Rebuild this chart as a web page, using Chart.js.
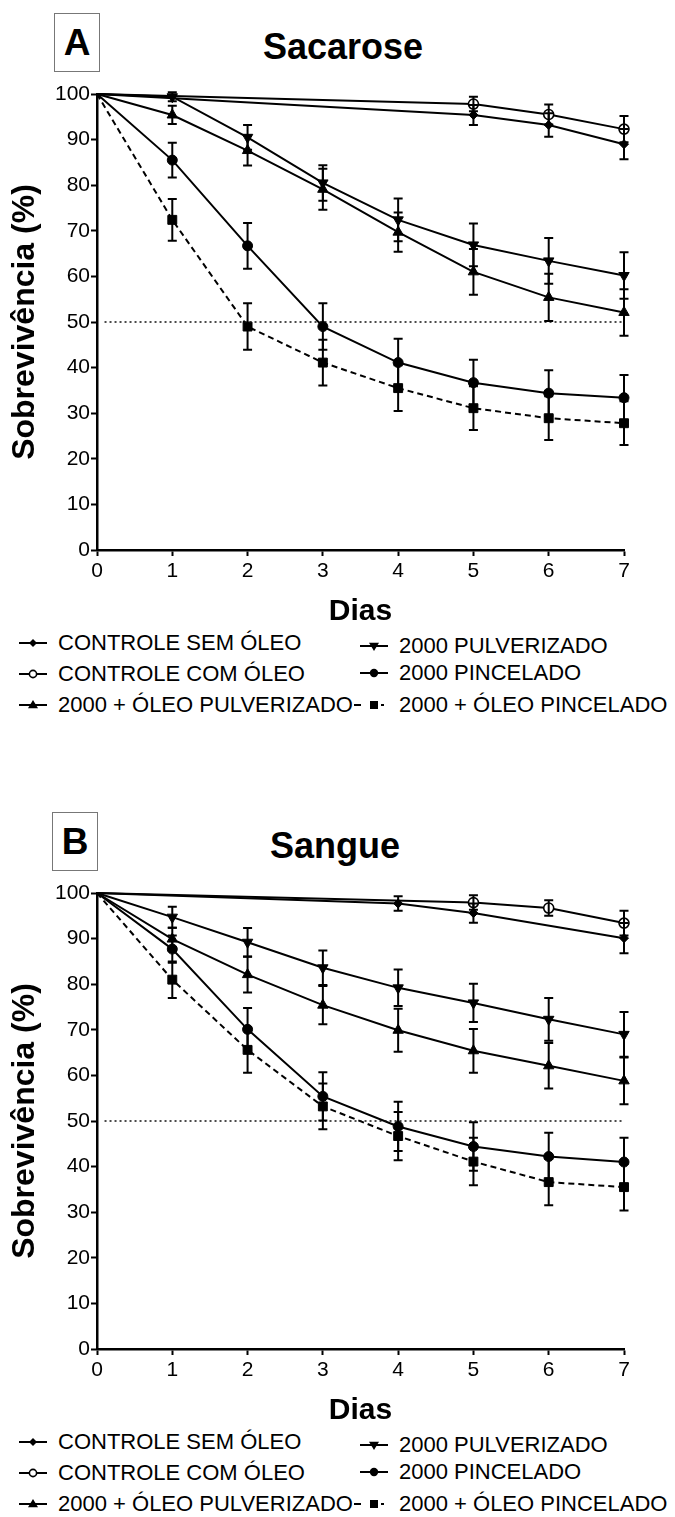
<!DOCTYPE html>
<html>
<head>
<meta charset="utf-8">
<script src="https://cdn.jsdelivr.net/npm/chart.js@4.4.1/dist/chart.umd.min.js"></script>
<style>
  html, body { margin: 0; padding: 0; background: #fff; }
  body { width: 675px; height: 1517px; position: relative; font-family: 'Liberation Sans', Arial, sans-serif; color: #000; overflow: hidden; }
  .box { position: absolute; width: 46px; height: 59px; border: 1px solid #777; box-sizing: border-box; display: flex; align-items: center; justify-content: center; font-weight: bold; font-size: 37px; }
  .title { position: absolute; transform: translateX(-50%); font-weight: bold; font-size: 36px; line-height: 40px; white-space: nowrap; }
  canvas { position: absolute; left: 0; }
  .leg { position: absolute; font-size: 22px; line-height: 26px; white-space: nowrap; }
  .sym { position: absolute; }
</style>
</head>
<body>
<div class="box" style="left:54px;top:13px;">A</div>
<div class="title" style="left:343px;top:27px;">Sacarose</div>
<canvas id="chartA" width="675" height="556" style="top:74px;"></canvas>

<div class="box" style="left:52px;top:812px;">B</div>
<div class="title" style="left:335px;top:826px;">Sangue</div>
<canvas id="chartB" width="675" height="556" style="top:873px;"></canvas>

<div id="legends"></div>

<script>
// ---------- DATA ----------
const days = [0, 1, 2, 3, 4, 5, 6, 7];
const seriesLabels = [
  'CONTROLE SEM ÓLEO',
  'CONTROLE COM ÓLEO',
  '2000 + ÓLEO PULVERIZADO',
  '2000 PULVERIZADO',
  '2000 PINCELADO',
  '2000 + ÓLEO PINCELADO'
];
const yTicks = [0, 10, 20, 30, 40, 50, 60, 70, 80, 90, 100];
const refLine = 50;

// Panel A - Sacarose
const semOleoA   = [100, null, null, null, null, 95.4, 93.2, 89.0];
const comOleoA   = [100, null, null, null, null, 97.8, 95.5, 92.3];
const oleoPulvA  = [100, 95.4, 87.6, 79.1, 69.7, 61.0, 55.4, 52.1];
const pulvA      = [100, 99.4, 90.5, 80.5, 72.4, 66.9, 63.4, 60.2];
const pincA      = [100, 85.5, 66.7, 49.0, 41.1, 36.7, 34.4, 33.4];
const oleoPincA  = [100, 72.4, 49.0, 41.1, 35.5, 31.1, 28.9, 27.8];
const semOleoAErr  = [0, null, null, null, null, 2.2, 2.6, 3.3];
const comOleoAErr  = [0, null, null, null, null, 1.6, 2.2, 2.9];
const oleoPulvAErr = [0, 2.0, 3.3, 4.5, 4.3, 5.0, 5.2, 5.1];
const pulvAErr     = [0, 1.0, 2.7, 3.9, 4.7, 4.7, 5.0, 5.1];
const pincAErr     = [0, 3.8, 5.0, 5.1, 5.2, 5.0, 5.0, 5.0];
const oleoPincAErr = [0, 4.6, 5.1, 5.0, 5.0, 4.8, 4.8, 4.8];

// Panel B - Sangue
const semOleoB   = [100, null, null, null, 97.7, 95.6, null, 90.1];
const comOleoB   = [100, null, null, null, null, 97.9, 96.7, 93.4];
const oleoPulvB  = [100, 89.9, 82.1, 75.4, 69.9, 65.4, 62.1, 58.8];
const pulvB      = [100, 94.7, 89.2, 83.6, 79.2, 75.9, 72.3, 69.0];
const pincB      = [100, 87.7, 70.1, 55.4, 48.8, 44.4, 42.2, 41.0];
const oleoPincB  = [100, 81.0, 65.6, 53.2, 46.7, 41.1, 36.6, 35.5];
const semOleoBErr  = [0, null, null, null, 1.6, 2.1, null, 3.3];
const comOleoBErr  = [0, null, null, null, null, 1.6, 1.7, 2.7];
const oleoPulvBErr = [0, 2.5, 3.9, 4.2, 4.7, 4.8, 5.0, 5.1];
const pulvBErr     = [0, 2.3, 3.1, 3.8, 4.0, 4.2, 4.7, 4.9];
const pincBErr     = [0, 3.0, 4.7, 5.3, 5.4, 5.3, 5.2, 5.3];
const oleoPincBErr = [0, 4.0, 5.0, 5.0, 5.3, 5.2, 5.1, 5.1];

// ---------- STYLES ----------
const styles = [
  { pointStyle: 'rectRot', radius: 4.5, bg: '#000', dash: [] },
  { pointStyle: 'circle', radius: 5, bg: '#fff', dash: [] },
  { pointStyle: 'triangle', radius: 6, bg: '#000', dash: [], rot: 0 },
  { pointStyle: 'triangle', radius: 6, bg: '#000', dash: [], rot: 180 },
  { pointStyle: 'circle', radius: 5, bg: '#000', dash: [] },
  { pointStyle: 'rect', radius: 6.3, bg: '#000', dash: [6, 4] }
];

Chart.defaults.font.family = "'Liberation Sans', Arial, sans-serif";
Chart.defaults.color = '#000';

function toPoints(vals, errs) {
  const pts = [];
  vals.forEach((v, i) => { if (v !== null) pts.push({ x: days[i], y: v, e: errs[i] }); });
  return pts;
}

const errorBarPlugin = {
  id: 'errorBars',
  afterDatasetsDraw(chart) {
    const ctx = chart.ctx;
    const yScale = chart.scales.y;
    ctx.save();
    ctx.strokeStyle = '#000';
    ctx.lineWidth = 2;
    ctx.setLineDash([]);
    chart.data.datasets.forEach((ds, di) => {
      if (!ds.hasErrors) return;
      const meta = chart.getDatasetMeta(di);
      meta.data.forEach((pt, i) => {
        const raw = ds.data[i];
        if (!raw || !raw.e) return;
        const x = pt.x;
        const y1 = yScale.getPixelForValue(raw.y + raw.e);
        const y2 = yScale.getPixelForValue(raw.y - raw.e);
        const cap = 4.5;
        ctx.beginPath();
        ctx.moveTo(x, y1); ctx.lineTo(x, y2);
        ctx.moveTo(x - cap, y1); ctx.lineTo(x + cap, y1);
        ctx.moveTo(x - cap, y2); ctx.lineTo(x + cap, y2);
        ctx.stroke();
      });
    });
    ctx.restore();
  }
};

function makeChart(id, series, errors) {
  const datasets = series.map((vals, k) => {
    const s = styles[k];
    return {
      label: seriesLabels[k],
      data: toPoints(vals, errors[k]),
      hasErrors: true,
      borderColor: '#000',
      borderWidth: 2,
      borderDash: s.dash,
      pointStyle: s.pointStyle,
      pointRadius: (c) => (c.raw && c.raw.x === 0 ? 0 : s.radius),
      pointRotation: s.rot || 0,
      pointBackgroundColor: s.bg,
      pointBorderColor: '#000',
      pointBorderWidth: k === 1 ? 1.6 : 1,
      spanGaps: true,
      tension: 0,
      clip: false
    };
  });
  datasets.unshift({
    label: 'ref50',
    data: [{ x: 0.1, y: refLine }, { x: 7, y: refLine }],
    borderColor: '#111',
    borderWidth: 1.6,
    borderDash: [2, 3],
    pointRadius: 0,
    clip: false
  });
  return new Chart(document.getElementById(id), {
    type: 'line',
    data: { datasets },
    plugins: [errorBarPlugin],
    options: {
      responsive: false,
      animation: false,
      devicePixelRatio: 1,
      layout: { padding: { left: 0, right: 51, top: 20, bottom: 0 } },
      plugins: { legend: { display: false }, tooltip: { enabled: false } },
      scales: {
        x: {
          type: 'linear', min: 0, max: 7,
          afterFit: (s) => { s.height = 80; },
          ticks: { stepSize: 1, font: { size: 21 }, padding: 3, color: '#000' },
          grid: { display: true, drawOnChartArea: false, drawTicks: true, tickLength: 6, tickColor: '#000', tickWidth: 2 },
          border: { display: true, color: '#000', width: 2.5 },
          title: { display: true, text: 'Dias', font: { size: 30, weight: 'bold' }, padding: { top: 0, bottom: 0 }, color: '#000' }
        },
        y: {
          min: 0, max: 100,
          afterFit: (s) => { s.width = 97; },
          afterBuildTicks: (s) => { s.ticks = yTicks.map(v => ({ value: v })); },
          ticks: { font: { size: 21 }, padding: 1, color: '#000' },
          grid: { display: true, drawOnChartArea: false, drawTicks: true, tickLength: 6, tickColor: '#000', tickWidth: 2 },
          border: { display: true, color: '#000', width: 2.5 },
          title: { display: true, text: 'Sobrevivência (%)', font: { size: 32, weight: 'bold' }, padding: { top: 6, bottom: 0 }, color: '#000' }
        }
      }
    }
  });
}

makeChart('chartA',
  [semOleoA, comOleoA, oleoPulvA, pulvA, pincA, oleoPincA],
  [semOleoAErr, comOleoAErr, oleoPulvAErr, pulvAErr, pincAErr, oleoPincAErr]);
makeChart('chartB',
  [semOleoB, comOleoB, oleoPulvB, pulvB, pincB, oleoPincB],
  [semOleoBErr, comOleoBErr, oleoPulvBErr, pulvBErr, pincBErr, oleoPincBErr]);

// ---------- HTML LEGENDS ----------
function symbolSVG(k) {
  const w = 36, h = 16, cy = 8, cx = 15;
  let line = `<line x1="1" y1="${cy}" x2="29" y2="${cy}" stroke="#000" stroke-width="2"/>`;
  let mark = '';
  if (k === 0) mark = `<polygon points="${cx},${cy-4} ${cx+4},${cy} ${cx},${cy+4} ${cx-4},${cy}" fill="#000"/>`;
  if (k === 1) mark = `<circle cx="${cx}" cy="${cy}" r="3.6" fill="#fff" stroke="#000" stroke-width="1.6"/>`;
  if (k === 2) mark = `<polygon points="${cx},${cy-5} ${cx+5},${cy+3.2} ${cx-5},${cy+3.2}" fill="#000"/>`;
  if (k === 3) mark = `<polygon points="${cx},${cy+5} ${cx+5},${cy-3.2} ${cx-5},${cy-3.2}" fill="#000"/>`;
  if (k === 4) mark = `<circle cx="${cx}" cy="${cy}" r="4.2" fill="#000"/>`;
  if (k === 5) {
    line = `<line x1="-5" y1="${cy}" x2="2" y2="${cy}" stroke="#000" stroke-width="2"/>` +
           `<line x1="22" y1="${cy}" x2="25" y2="${cy}" stroke="#000" stroke-width="2"/>`;
    mark = `<rect x="${cx-4}" y="${cy-4}" width="8" height="8" fill="#000"/>`;
  }
  return `<svg width="${w}" height="${h}" style="overflow:visible">${line}${mark}</svg>`;
}

function makeLegend(offset) {
  const cont = document.getElementById('legends');
  const col1 = { symX: 18, textX: 58, rows: [643, 674, 705] };
  const col2 = { symX: 359, textX: 399, rows: [646, 673, 705] };
  const order = [[col1, 0, 0], [col1, 1, 1], [col1, 2, 2], [col2, 0, 3], [col2, 1, 4], [col2, 2, 5]];
  order.forEach(([col, r, k]) => {
    const y = col.rows[r] + offset;
    const sym = document.createElement('div');
    sym.className = 'sym';
    sym.style.left = col.symX + 'px';
    sym.style.top = (y - 8) + 'px';
    sym.innerHTML = symbolSVG(k);
    cont.appendChild(sym);
    const t = document.createElement('div');
    t.className = 'leg';
    t.style.left = col.textX + 'px';
    t.style.top = (y - 13) + 'px';
    t.textContent = seriesLabels[k];
    cont.appendChild(t);
  });
}
makeLegend(0);
makeLegend(799);
</script>
</body>
</html>
